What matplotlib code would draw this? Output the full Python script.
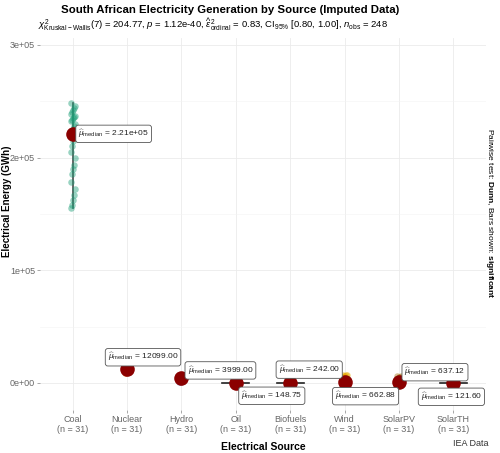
import matplotlib.pyplot as plt
import numpy as np

# fonts: Arial-like text, and the math bits in the same family
plt.rcParams['font.family'] = ['Liberation Sans', 'DejaVu Sans']
plt.rcParams['mathtext.fontset'] = 'custom'
plt.rcParams['mathtext.rm'] = 'Liberation Sans'
plt.rcParams['mathtext.it'] = 'Liberation Sans:italic'
plt.rcParams['mathtext.bf'] = 'Liberation Sans:bold'

sources = ["Coal", "Nuclear", "Hydro", "Oil", "Biofuels", "Wind", "SolarPV", "SolarTH"]
colors = ["#1B9E77", "#D95F02", "#7570B3", "#E7298A", "#66A61E", "#E6AB02", "#A6761D", "#666666"]

# yearly generation values (GWh), 31 years each
coal = [155000, 158000, 162000, 167000, 172000, 178000, 185000, 190000, 193000, 200000,
        205000, 210000, 215000, 218000, 220000, 221000, 223000, 225000, 228000, 230000,
        232000, 233000, 235000, 236000, 237000, 239000, 240000, 242000, 244000, 246000, 248000]
nuclear = [8400, 9100, 9700, 10200, 10700, 11000, 11300, 11500, 11700, 11800,
           11900, 11950, 12000, 12050, 12080, 12099, 12200, 12300, 12500, 12700,
           12900, 13000, 13200, 13400, 13600, 13800, 14000, 14200, 14500, 15000, 15200]
hydro = [700, 900, 1100, 1300, 1500, 1800, 2100, 2400, 2700, 3000,
         3200, 3400, 3600, 3800, 3900, 3999, 4100, 4200, 4300, 4400,
         4500, 4600, 4700, 4800, 4900, 5000, 5100, 5200, 5300, 5400, 5500]
oil = [40, 60, 80, 90, 100, 110, 115, 120, 125, 130,
       135, 140, 143, 146, 148, 148.75, 150, 155, 160, 170,
       180, 190, 200, 210, 220, 240, 260, 280, 300, 330, 360]
biofuels = [150, 170, 180, 190, 200, 205, 210, 215, 220, 225,
            230, 233, 236, 239, 241, 242, 244, 246, 248, 250,
            253, 256, 260, 265, 270, 275, 280, 290, 300, 310, 320]
wind = [10, 20, 30, 50, 80, 120, 200, 300, 400, 500,
        550, 600, 620, 640, 660, 662.88, 662.88, 662.88, 662.88, 700,
        1000, 1500, 2200, 2500, 3700, 5100, 6100, 6500, 6600, 6700, 6800]
solarpv = [5, 10, 15, 20, 30, 50, 80, 120, 200, 300,
           400, 500, 560, 600, 630, 637.12, 637.12, 637.12, 650, 700,
           900, 1200, 2000, 2300, 3000, 3500, 4500, 5000, 5400, 5700, 6000]
solarth = [0, 0, 5, 10, 20, 40, 60, 80, 90, 100,
           105, 110, 115, 118, 120, 121.6, 121.6, 122, 125, 130,
           140, 160, 180, 200, 250, 300, 350, 400, 500, 700, 900]

all_data = [coal, nuclear, hydro, oil, biofuels, wind, solarpv, solarth]
median_labels = ["2.21e+05", "12099.00", "3999.00", "148.75", "242.00", "662.88", "637.12", "121.60"]

# where each median label sits relative to its dot (pixels)
label_offsets = [(41, 0), (16, 12), (39, 8), (36, -13), (19, 13), (21, -14), (36, 10), (-2, -14)]

fig = plt.figure(figsize=(5, 4.53), dpi=100)
ax = fig.add_axes([0.08, 0.095, 0.892, 0.821])

# light grid like ggplot's minimal theme
ax.set_yticks([0, 100000, 200000, 300000])
ax.set_yticks([50000, 150000, 250000], minor=True)
ax.grid(True, which="major", color="#EBEBEB", lw=0.6)
ax.grid(True, which="minor", axis="y", color="#F3F3F3", lw=0.4)
ax.set_axisbelow(True)

for i, vals in enumerate(all_data):
    x0 = i + 1
    vals = np.array(vals)
    # tiny fixed jitter so the points don't all stack
    jit = np.array([((k % 5) - 2) * 0.018 for k in range(len(vals))])
    ax.scatter(x0 + jit, vals, s=22, color=colors[i], alpha=0.45, lw=0, zorder=3)

# the coal distribution shows as a thin vertical line, the flat ones as short bars
ax.plot([1, 1], [min(coal), max(coal)], color="#4D4D4D", lw=1.2, zorder=2)
for i in [3, 4, 7]:
    med = np.median(all_data[i])
    ax.plot([i + 1 - 0.25, i + 1 + 0.25], [med, med], color="#222222", lw=1.2, zorder=2)

# medians as big dark red dots with labels
for i, vals in enumerate(all_data):
    med = np.median(vals)
    ax.scatter(i + 1, med, s=110, color="#8B0000", zorder=4, lw=0)
    ax.annotate(r"$\widehat{\mu}_{\mathrm{median}}$ = " + median_labels[i],
                xy=(i + 1, med), xytext=label_offsets[i], textcoords="offset pixels",
                ha="center", va="center", fontsize=6, color="#222222", zorder=5,
                bbox=dict(boxstyle="round,pad=0.3,rounding_size=0.3", fc="white",
                          ec="#555555", lw=0.6))

ax.set_xlim(0.4, 8.6)
ax.set_ylim(-24000, 306000)
ax.set_xticks(range(1, 9))
ax.set_xticklabels([s + "\n(n = 31)" for s in sources])
ax.set_yticklabels(["0e+00", "1e+05", "2e+05", "3e+05"])
ax.tick_params(axis="both", labelsize=6.5, labelcolor="#666666", color="#999999",
               length=2, width=0.6, pad=1.5)
ax.tick_params(which="minor", length=0)
for sp in ax.spines.values():
    sp.set_visible(False)

ax.set_xlabel("Electrical Source", fontsize=7.5, fontweight="bold")
ax.xaxis.set_label_coords(0.5, -0.085)
ax.set_ylabel("Electrical Energy (GWh)", fontsize=7, fontweight="bold")
ax.yaxis.set_label_coords(-0.062, 0.56)

fig.text(0.46, 0.978, "South African Electricity Generation by Source (Imputed Data)",
         ha="center", va="center", fontsize=8.2, fontweight="bold")
fig.text(0.075, 0.945,
         r"$\chi^2_{\mathrm{Kruskal-Wallis}}(7)$ = 204.77, $p$ = 1.12e-40, "
         r"$\widehat{\varepsilon}^2_{\mathrm{ordinal}}$ = 0.83, CI$_{95\%}$ [0.80, 1.00], "
         r"$n_{\mathrm{obs}}$ = 248",
         ha="left", va="center", fontsize=6.8)
fig.text(0.98, 0.53, r"Pairwise test: $\bf{Dunn}$, Bars shown: $\bf{significant}$",
         rotation=270, ha="center", va="center", fontsize=6)
fig.text(0.977, 0.011, "IEA Data", ha="right", va="bottom", fontsize=6.5, color="#333333")

plt.savefig("out.png", dpi=100)
